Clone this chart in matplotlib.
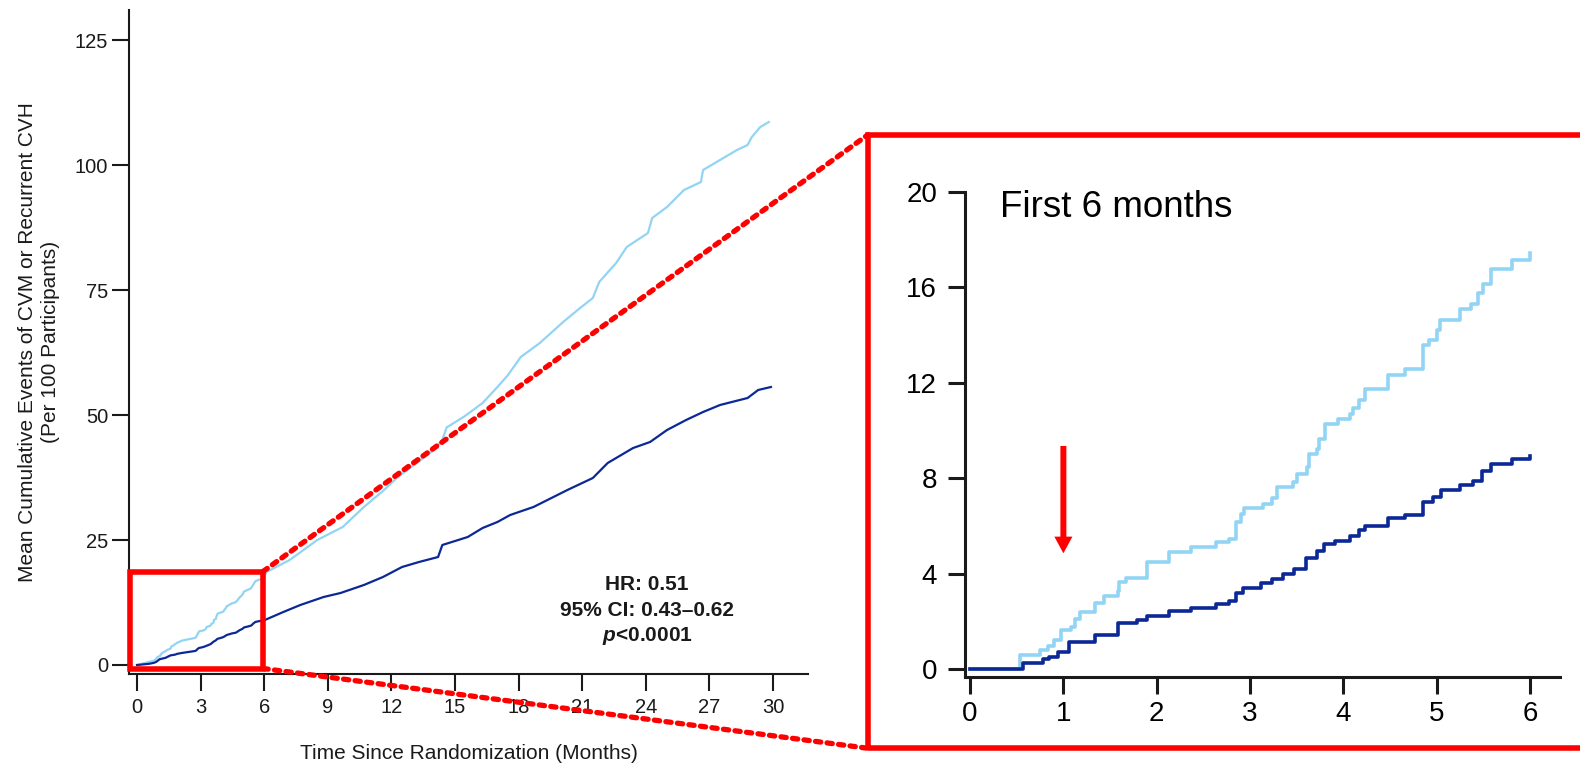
import numpy as np
import matplotlib
matplotlib.use("Agg")
import matplotlib.pyplot as plt
from matplotlib.patches import Rectangle, ConnectionPatch

plt.rcParams["font.family"] = ["Liberation Sans", "DejaVu Sans"]
plt.rcParams["mathtext.fontset"] = "custom"
plt.rcParams["mathtext.it"] = "Liberation Sans:italic:bold"

# step points: (month, cumulative events per 100)
light_months = [0, 0.54, 0.75, 0.83, 0.90, 0.97, 1.08, 1.12, 1.18, 1.34, 1.44, 1.58, 1.60, 1.67,
                1.90, 2.13, 2.37, 2.64, 2.77, 2.85, 2.90, 2.93, 3.14, 3.23, 3.29, 3.46, 3.50,
                3.61, 3.63, 3.72, 3.74, 3.80, 3.94, 4.07, 4.10, 4.17, 4.23, 4.48, 4.66, 4.85,
                4.92, 5.00, 5.03, 5.25, 5.37, 5.44, 5.49, 5.58, 5.81, 6.00,
                6.1, 7.2, 8.5, 9.7, 10.7, 11.6, 12.3, 13.2, 14.0, 14.4, 14.6, 15.4, 16.3, 17.0,
                17.5, 18.1, 19.0, 20.1, 20.9, 21.5, 21.8, 22.6, 23.1, 24.1, 24.3, 25.0, 25.8,
                26.6, 26.7, 27.5, 28.3, 28.8, 29.0, 29.4, 29.8]
light_events = [0, 0.59, 0.80, 0.97, 1.22, 1.62, 1.78, 2.10, 2.38, 2.78, 3.05, 3.26, 3.63, 3.80,
                4.47, 4.89, 5.10, 5.33, 5.47, 6.15, 6.50, 6.74, 6.92, 7.16, 7.62, 7.83, 8.19,
                8.47, 9.03, 9.21, 9.66, 10.27, 10.48, 10.68, 10.93, 11.28, 11.74, 12.33, 12.57, 13.57,
                13.81, 14.23, 14.65, 15.08, 15.32, 15.78, 16.13, 16.76, 17.14, 17.45,
                18.6, 21.0, 25.0, 27.6, 31.6, 34.8, 37.6, 40.4, 43.0, 45.0, 47.5, 49.6, 52.4, 55.6,
                58.0, 61.6, 64.4, 68.6, 71.4, 73.4, 76.6, 80.4, 83.6, 86.4, 89.4, 91.6, 95.0,
                96.6, 99.0, 101.0, 103.0, 104.0, 105.6, 107.6, 108.6]

dark_months = [0, 0.57, 0.78, 0.85, 0.94, 1.06, 1.34, 1.58, 1.79, 1.90, 2.13, 2.37, 2.64, 2.77,
               2.85, 2.92, 3.12, 3.24, 3.35, 3.47, 3.60, 3.72, 3.79, 3.91, 4.07, 4.17, 4.23,
               4.48, 4.66, 4.85, 4.96, 5.05, 5.25, 5.39, 5.48, 5.58, 5.81, 6.00,
               6.9, 7.7, 8.8, 9.6, 10.7, 11.6, 12.5, 13.3, 14.2, 14.4, 15.6, 16.3, 17.0, 17.6,
               18.7, 20.3, 21.5, 22.2, 23.4, 24.2, 25.0, 25.9, 26.7, 27.5, 28.8, 29.3, 29.9]
dark_events = [0, 0.24, 0.42, 0.52, 0.73, 1.15, 1.43, 1.93, 2.07, 2.24, 2.42, 2.57, 2.74, 2.84,
               3.19, 3.40, 3.59, 3.78, 3.97, 4.18, 4.64, 4.95, 5.23, 5.37, 5.58, 5.84, 6.00,
               6.32, 6.46, 6.99, 7.20, 7.52, 7.72, 7.90, 8.28, 8.61, 8.82, 8.95,
               10.6, 12.0, 13.6, 14.4, 16.0, 17.6, 19.6, 20.6, 21.6, 24.0, 25.6, 27.4, 28.6, 30.0,
               31.6, 35.0, 37.4, 40.4, 43.4, 44.6, 47.0, 49.0, 50.6, 52.0, 53.4, 55.0, 55.6]

main_xticks = list(range(0, 31, 3))
main_yticks = [0, 25, 50, 75, 100, 125]
zoom_xticks = list(range(0, 7))
zoom_yticks = [0, 4, 8, 12, 16, 20]
stats_lines = ["HR: 0.51", "95% CI: 0.43\u20130.62", r"$\mathit{p}$<0.0001"]

LIGHT = "#92D4F4"
DARK = "#0B2896"
RED = "#FF0000"
INK = "#1a1a1a"

W, H = 1580, 767
fig = plt.figure(figsize=(W / 100, H / 100), dpi=100)

# main panel
ax = fig.add_axes([129 / W, 1 - 674 / H, (808 - 129) / W, (674 - 10) / H])
ax.plot(light_months, light_events, color=LIGHT, lw=1.6)
ax.plot(dark_months, dark_events, color=DARK, lw=1.6)
ax.set_xlim(-0.38, 31.65)
ax.set_ylim(-1.8, 131)
ax.set_xticks(main_xticks)
ax.set_yticks(main_yticks)
for s in ("top", "right"):
    ax.spines[s].set_visible(False)
for s in ("left", "bottom"):
    ax.spines[s].set_linewidth(1.5)
    ax.spines[s].set_color(INK)
ax.tick_params(axis="both", length=12, width=1.5, color=INK, labelsize=14.5, labelcolor=INK)
ax.tick_params(axis="x", pad=5)
ax.tick_params(axis="y", pad=3)
ax.set_xlabel("Time Since Randomization (Months)", fontsize=15, color=INK, labelpad=20)
ax.set_ylabel("Mean Cumulative Events of CVM or Recurrent CVH\n(Per 100 Participants)",
              fontsize=15, color=INK, linespacing=1.25, labelpad=11)

for i, line in enumerate(stats_lines):
    ax.text(24.05, 16.0 - i * 5.1, line, ha="center", va="center", fontsize=15,
            fontweight="bold", color=INK)

ax.add_patch(Rectangle((-0.33, -0.7), 6.27, 19.4, fill=False, ec=RED, lw=4,
                       clip_on=False, zorder=5))

# zoomed panel
ax2 = fig.add_axes([965 / W, 1 - 677.3 / H, (1560 - 965) / W, (677.3 - 192) / H])
lm = np.array(light_months)
dm = np.array(dark_months)
ax2.plot(lm[lm <= 6], np.array(light_events)[lm <= 6], color=LIGHT, lw=2.6, drawstyle="steps-post")
ax2.plot(dm[dm <= 6], np.array(dark_events)[dm <= 6], color=DARK, lw=2.6, drawstyle="steps-post")
ax2.set_xlim(-0.054, 6.32)
ax2.set_ylim(-0.35, 20)
ax2.set_xticks(zoom_xticks)
ax2.set_yticks(zoom_yticks)
for s in ("top", "right"):
    ax2.spines[s].set_visible(False)
for s in ("left", "bottom"):
    ax2.spines[s].set_linewidth(2.2)
    ax2.spines[s].set_color(INK)
ax2.tick_params(axis="both", length=12, width=2.2, color=INK, labelsize=20, labelcolor="black")
ax2.tick_params(axis="x", pad=5)
ax2.tick_params(axis="y", pad=8)
ax2.text(0.32, 18.96, "First 6 months", fontsize=26.5, va="baseline", ha="left", color="black")
ax2.annotate("", xy=(1.0, 4.85), xytext=(1.0, 9.35),
             arrowprops=dict(arrowstyle="simple,head_length=1.2,head_width=1.3,tail_width=0.43",
                             color=RED, lw=0, shrinkA=0, shrinkB=0))

# frame around zoomed panel and connectors
bx0, by0 = 868 / W, 1 - 748.3 / H
bx1, by1 = 1585 / W, 1 - 134.7 / H
fig.add_artist(Rectangle((bx0, by0), bx1 - bx0, by1 - by0, transform=fig.transFigure,
                         fill=False, ec=RED, lw=4))
for ya, yb in ((18.7, by1), (-0.7, by0)):
    fig.add_artist(ConnectionPatch(xyA=(5.94, ya), coordsA=ax.transData,
                                   xyB=(bx0, yb), coordsB=fig.transFigure,
                                   color=RED, lw=3.8, linestyle=(0, (1, 1.2)), zorder=6))

fig.savefig("out.png", dpi=100)
